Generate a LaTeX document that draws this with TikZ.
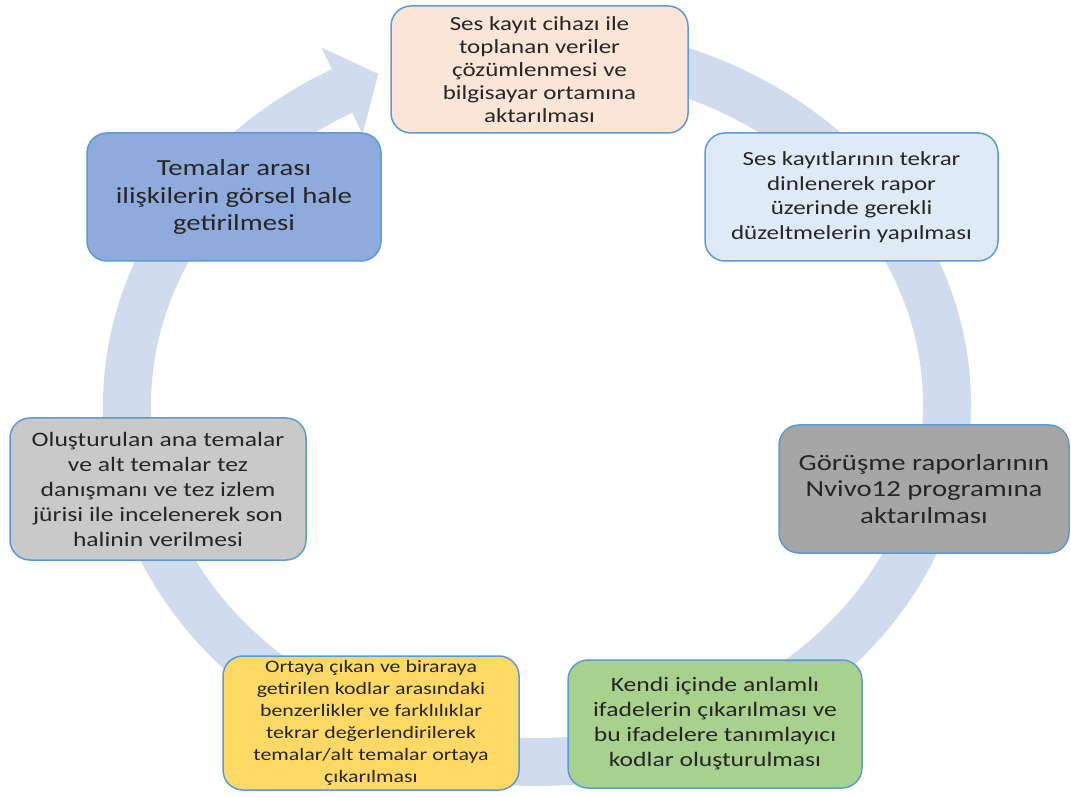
\documentclass[tikz,border=0pt]{standalone}
\usepackage{fontspec}
\setmainfont{Carlito}[FakeStretch=1.25]
\usetikzlibrary{arrows.meta}
\definecolor{ringblue}{HTML}{D0DBEE}
\definecolor{edgeblue}{HTML}{5B9BD5}
\definecolor{peach}{HTML}{FBE5D6}
\definecolor{paleblue}{HTML}{DEEBF7}
\definecolor{darkgray}{HTML}{A6A6A6}
\definecolor{leafgreen}{HTML}{A9D18E}
\definecolor{sunyellow}{HTML}{FFD966}
\definecolor{lightgray}{HTML}{C9C9C9}
\definecolor{steelblue}{HTML}{8FAADC}
\tikzset{
  stage/.style={draw=edgeblue, line width=1.5pt, rounded corners=20pt,
    align=center, inner sep=4pt, text=black!85},
  fs/.style 2 args={font=\fontsize{#1}{#2}\selectfont}
}
\begin{document}
\begin{tikzpicture}[x=1pt,y=1pt]
 \useasboundingbox (0,0) rectangle (1071,796);
 % circular arrow behind the stages
 \coordinate (ringc) at (537,391);
 \draw[ringblue, line width=48pt]
   (ringc) ++(85:410 and 357) arc[start angle=85, end angle=-242.5, x radius=410, y radius=357];
 \path (ringc) ++(118.4:410 and 357) coordinate (headbase);
 \fill[ringblue] (headbase) ++(-20.5,43.4) -- ++(56.7,-26.3) -- ++(-15.7,-60.5) -- cycle;
 % stages
 \node[stage, fill=peach, minimum width=297pt, minimum height=127pt, fs={20}{23}] (kayit) at (539.5,726.5)
   {Ses kayıt cihazı ile\\toplanan veriler\\çözümlenmesi ve\\bilgisayar ortamına\\aktarılması};
 \node[stage, fill=paleblue, minimum width=293pt, minimum height=128pt, fs={20}{24.5}] (duzelt) at (851.5,599)
   {Ses kayıtlarının tekrar\\dinlenerek rapor\\üzerinde gerekli\\düzeltmelerin yapılması};
 \node[stage, fill=darkgray, minimum width=290pt, minimum height=128pt, fs={23}{26.5}] (nvivo) at (924,307)
   {Görüşme raporlarının\\Nvivo12 programına\\aktarılması};
 \node[stage, fill=leafgreen, minimum width=294pt, minimum height=128pt, fs={20.5}{25}] (kodlar) at (715,72)
   {Kendi içinde anlamlı\\ifadelerin çıkarılması ve\\bu ifadelere tanımlayıcı\\kodlar oluşturulması};
 \node[stage, fill=sunyellow, minimum width=296pt, minimum height=134pt, fs={17.5}{22}] (temalar) at (371,73)
   {Ortaya çıkan ve biraraya\\getirilen kodlar arasındaki\\benzerlikler ve farklılıklar\\tekrar değerlendirilerek\\temalar/alt temalar ortaya\\çıkarılması};
 \node[stage, fill=lightgray, minimum width=296pt, minimum height=142pt, fs={20.5}{25}] (juri) at (158,307)
   {Oluşturulan ana temalar\\ve alt temalar tez\\danışmanı ve tez izlem\\jürisi ile incelenerek son\\halinin verilmesi};
 \node[stage, fill=steelblue, minimum width=294pt, minimum height=128pt, fs={23}{27.5}] (gorsel) at (234,599)
   {Temalar arası\\ilişkilerin görsel hale\\getirilmesi};
\end{tikzpicture}
\end{document}
